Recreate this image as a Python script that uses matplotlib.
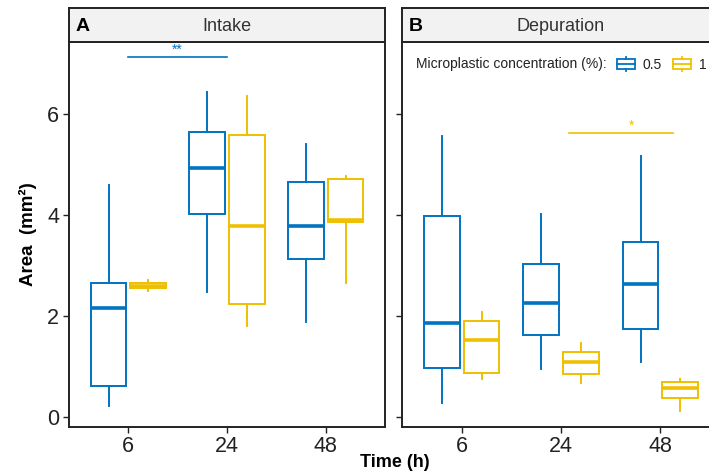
import matplotlib
matplotlib.use("Agg")
import matplotlib.pyplot as plt
from matplotlib.patches import Patch, Rectangle
from matplotlib.lines import Line2D
from matplotlib.legend_handler import HandlerBase

plt.rcParams['font.family'] = ['Liberation Sans', 'DejaVu Sans']

BLUE = '#0073C2'
YELLOW = '#EFC000'

times = ['6', '24', '48']
conc = ['0.5', '1']

# whisker low, Q1, median, Q3, whisker high
intake_05 = [[0.22, 0.61, 2.16, 2.65, 4.59],
             [2.47, 4.01, 4.92, 5.63, 6.42],
             [1.87, 3.13, 3.78, 4.64, 5.39]]
intake_1 = [[2.50, 2.55, 2.60, 2.65, 2.70],
            [1.81, 2.23, 3.78, 5.58, 6.34],
            [2.66, 3.86, 3.89, 4.71, 4.77]]
depur_05 = [[0.28, 0.98, 1.85, 3.98, 5.56],
            [0.96, 1.63, 2.26, 3.03, 4.01],
            [1.09, 1.75, 2.64, 3.46, 5.17]]
depur_1 = [[0.75, 0.88, 1.52, 1.89, 2.07],
           [0.67, 0.86, 1.08, 1.28, 1.47],
           [0.12, 0.38, 0.58, 0.70, 0.75]]


def stats(rows):
    out = []
    for lo, q1, med, q3, hi in rows:
        out.append(dict(whislo=lo, q1=q1, med=med, q3=q3, whishi=hi, fliers=[]))
    return out


def draw_boxes(ax, rows, color, offset):
    pos = [i + 1 + offset for i in range(len(rows))]
    ax.bxp(stats(rows), positions=pos, widths=0.36, showcaps=False,
           patch_artist=True, manage_ticks=False,
           boxprops=dict(facecolor='white', edgecolor=color, linewidth=1.4),
           whiskerprops=dict(color=color, linewidth=1.4),
           medianprops=dict(color=color, linewidth=2.6, solid_capstyle='butt'))


class BoxHandler(HandlerBase):
    def create_artists(self, legend, orig_handle, xdescent, ydescent,
                       width, height, fontsize, trans):
        c = orig_handle.get_edgecolor()
        x0, y0 = -xdescent, -ydescent
        rect = Rectangle((x0, y0 + height * 0.15), width, height * 0.7,
                         facecolor='white', edgecolor=c, lw=1.3, transform=trans)
        mid = Line2D([x0, x0 + width], [y0 + height / 2] * 2, color=c, lw=1.3, transform=trans)
        top = Line2D([x0 + width / 2] * 2, [y0 + height * 0.85, y0 + height * 1.05], color=c, lw=1.3, transform=trans)
        bot = Line2D([x0 + width / 2] * 2, [y0 - height * 0.05, y0 + height * 0.15], color=c, lw=1.3, transform=trans)
        return [rect, mid, top, bot]


fig = plt.figure(figsize=(7.09, 4.73), dpi=100)
ax_h = 385 / 473
ax_b = 46.3 / 473
strip_h = 33.4 / 473
axA = fig.add_axes([69 / 709, ax_b, 316 / 709, ax_h])
axB = fig.add_axes([402 / 709, ax_b, 318 / 709, ax_h])

panels = [(axA, intake_05, intake_1, 'A', 'Intake'),
          (axB, depur_05, depur_1, 'B', 'Depuration')]

for ax, d05, d1, letter, title in panels:
    draw_boxes(ax, d05, BLUE, -0.2)
    draw_boxes(ax, d1, YELLOW, 0.2)
    ax.set_xlim(0.4, 3.6)
    ax.set_ylim(-0.19, 7.42)
    ax.set_xticks([1, 2, 3])
    ax.set_xticklabels(times)
    ax.set_yticks([0, 2, 4, 6])
    ax.tick_params(labelsize=15.5, length=4, width=1, colors='#222222', pad=3)
    for s in ax.spines.values():
        s.set_linewidth(1.4)
        s.set_color('#222222')
    pos = ax.get_position()
    sax = fig.add_axes([pos.x0, pos.y1, pos.width, strip_h])
    sax.set_facecolor('#f2f2f2')
    sax.set_xticks([])
    sax.set_yticks([])
    for s in sax.spines.values():
        s.set_linewidth(1.4)
        s.set_color('#222222')
    sax.text(0.5, 0.45, title, ha='center', va='center', fontsize=13, color='#333333')
    sax.text(0.02, 0.45, letter, ha='left', va='center', fontsize=14, fontweight='bold')

axB.set_yticklabels([])
axA.set_ylabel('Area  (mm²)', fontsize=13.5, fontweight='bold', labelpad=7)
fig.text(395 / 709, 1 - 462 / 473, 'Time (h)', ha='center', va='center',
         fontsize=13, fontweight='bold')

# significance brackets
axA.plot([1, 2], [7.11, 7.11], color=BLUE, lw=1.2)
axA.text(1.5, 7.12, '**', ha='center', va='bottom', fontsize=10, color=BLUE)
axB.plot([2.08, 3.13], [5.61, 5.61], color=YELLOW, lw=1.2)
axB.text(2.71, 5.62, '*', ha='center', va='bottom', fontsize=10, color=YELLOW)

# legend
axB.text(0.043, 0.941, 'Microplastic concentration (%):', transform=axB.transAxes,
         ha='left', va='center', fontsize=10, color='#222222')
handles = [Patch(edgecolor=BLUE, facecolor='white'), Patch(edgecolor=YELLOW, facecolor='white')]
axB.legend(handles, conc, loc='center left', bbox_to_anchor=(0.677, 0.941), ncol=2,
           frameon=False, fontsize=10, handlelength=1.25, handleheight=1.1,
           handletextpad=0.6, columnspacing=0.8, borderpad=0, borderaxespad=0,
           handler_map={Patch: BoxHandler()}, labelcolor='#222222')

fig.savefig('out.png', dpi=100)
